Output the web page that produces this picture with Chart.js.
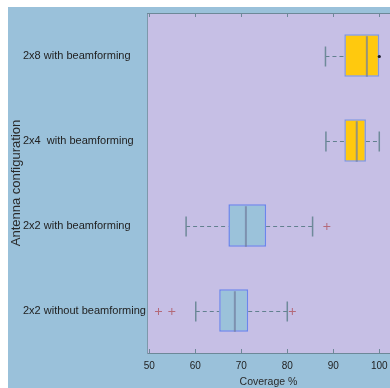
<!DOCTYPE html>
<html>
<head>
<meta charset="utf-8">
<script src="https://cdn.jsdelivr.net/npm/chart.js@4"></script>
<style>
  html, body { margin: 0; padding: 0; background: #ffffff; }
  #wrap { position: absolute; left: 8px; top: 7px; width: 382px; height: 381px; background: #9ac1da; }
</style>
</head>
<body>
<div id="wrap"><canvas id="boxChart" width="382" height="381"></canvas></div>
<script>
// DATA
const categories = ["2x8 with beamforming", "2x4  with beamforming", "2x2 with beamforming", "2x2 without beamforming"];
const whiskerLo = [88.3, 88.4, 58.0, 60.1];
const q1 = [92.4, 92.4, 67.2, 65.2];
const median = [97.3, 95.1, 71.0, 68.6];
const q3 = [100.0, 97.1, 75.4, 71.5];
const whiskerHi = [100.0, 100.0, 85.5, 80.0];
const outliers = [[], [], [88.6], [52.0, 54.9, 81.1]];
const xTicks = [50, 60, 70, 80, 90, 100];

const boxFill = ["#ffc90e", "#ffc90e", "#9bc2da", "#9bc2da"];
const boxLine = ["#7f98e2", "#7f98e2", "#6a86ec", "#6a86ec"];

// plot background, frame ticks, whiskers, medians, outliers
const boxParts = {
    id: "boxParts",
    beforeDraw(chart) {
        const a = chart.chartArea, ctx = chart.ctx;
        ctx.save();
        ctx.fillStyle = "#c6bfe5";
        ctx.fillRect(a.left, a.top, a.right - a.left, a.bottom - a.top);
        ctx.restore();
    },
    beforeDatasetsDraw(chart) {
        const a = chart.chartArea, ctx = chart.ctx;
        const x = chart.scales.x, y = chart.scales.y;
        ctx.save();
        ctx.beginPath();
        ctx.rect(a.left, a.top, a.right - a.left, a.bottom - a.top);
        ctx.clip();
        categories.forEach((c, i) => {
            const cy = Math.round(y.getPixelForValue(i)) + 0.5;
            const lo = x.getPixelForValue(whiskerLo[i]);
            const hi = x.getPixelForValue(whiskerHi[i]);
            const b1 = x.getPixelForValue(q1[i]);
            const b3 = x.getPixelForValue(q3[i]);
            ctx.strokeStyle = "#62808f";
            ctx.lineWidth = 1;
            ctx.setLineDash([4, 3]);
            ctx.beginPath();
            ctx.moveTo(lo, cy); ctx.lineTo(b1, cy);
            if (hi > b3) { ctx.moveTo(b3, cy); ctx.lineTo(hi, cy); }
            ctx.stroke();
            ctx.setLineDash([]);
            ctx.lineWidth = 1.5;
            ctx.strokeStyle = "#6f8a9a";
            ctx.beginPath();
            ctx.moveTo(lo, cy - 10); ctx.lineTo(lo, cy + 10);
            if (hi > b3) { ctx.moveTo(hi, cy - 10); ctx.lineTo(hi, cy + 10); }
            ctx.stroke();
        });
        ctx.restore();
    },
    afterDatasetsDraw(chart) {
        const a = chart.chartArea, ctx = chart.ctx;
        const x = chart.scales.x, y = chart.scales.y;
        ctx.save();
        categories.forEach((c, i) => {
            const cy = Math.round(y.getPixelForValue(i)) + 0.5;
            const half = chart.getDatasetMeta(0).data[i].height / 2;
            const m = x.getPixelForValue(median[i]);
            ctx.strokeStyle = "rgba(115,128,160,0.75)";
            ctx.lineWidth = 2;
            ctx.beginPath();
            ctx.moveTo(m, cy - half + 1); ctx.lineTo(m, cy + half - 1);
            ctx.stroke();
            if (whiskerHi[i] <= q3[i]) {
                ctx.fillStyle = "#1a1a2a";
                ctx.beginPath();
                ctx.arc(x.getPixelForValue(whiskerHi[i]), cy, 1.6, 0, Math.PI * 2);
                ctx.fill();
            }
            ctx.strokeStyle = "#b46a7a";
            ctx.lineWidth = 1;
            outliers[i].forEach(v => {
                const px = x.getPixelForValue(v);
                ctx.beginPath();
                ctx.moveTo(px - 3.5, cy); ctx.lineTo(px + 3.5, cy);
                ctx.moveTo(px, cy - 3.5); ctx.lineTo(px, cy + 3.5);
                ctx.stroke();
            });
        });
        // top frame line and inward tick marks
        ctx.strokeStyle = "#6d8898";
        ctx.lineWidth = 1;
        ctx.beginPath();
        ctx.moveTo(a.left, a.top + 0.5); ctx.lineTo(a.right, a.top + 0.5);
        xTicks.forEach(v => {
            const px = Math.round(x.getPixelForValue(v)) + 0.5;
            ctx.moveTo(px, a.top); ctx.lineTo(px, a.top + 4);
            ctx.moveTo(px, a.bottom); ctx.lineTo(px, a.bottom - 4);
        });
        ctx.stroke();
        ctx.restore();
    }
};

new Chart(document.getElementById("boxChart"), {
    type: "bar",
    data: {
        labels: categories,
        datasets: [{
            data: categories.map((c, i) => [q1[i], q3[i]]),
            backgroundColor: boxFill,
            borderColor: boxLine,
            borderWidth: 1.5,
            borderSkipped: false,
            barPercentage: 0.5,
            categoryPercentage: 1
        }]
    },
    options: {
        indexAxis: "y",
        responsive: false,
        animation: false,
        layout: { padding: { top: 6, right: 0, left: 0, bottom: 0 } },
        plugins: { legend: { display: false }, tooltip: { enabled: false } },
        scales: {
            x: {
                min: 49.5,
                max: 102.33,
                afterBuildTicks: s => { s.ticks = xTicks.map(v => ({ value: v })); },
                afterFit: s => { s.height = 35; s.paddingLeft = 0; s.paddingRight = 0; },
                grid: { display: true, drawOnChartArea: false, drawTicks: false },
                border: { display: true, color: "#6d8898", width: 1 },
                ticks: { padding: 7, color: "#222", font: { family: "Liberation Sans, Arial", size: 10 } },
                title: { display: true, text: "Coverage %", color: "#2a2a2a", padding: 0,
                         font: { family: "Liberation Sans, Arial", size: 10.5 } }
            },
            y: {
                weight: 0,
                afterFit: s => { s.width = 124; s.paddingTop = 0; s.paddingBottom = 0; },
                grid: { display: true, drawOnChartArea: false, drawTicks: false },
                border: { display: true, color: "#7e98aa", width: 1 },
                ticks: { crossAlign: "far", color: "#222", font: { family: "Liberation Sans, Arial", size: 11 } }
            },
            yt: {
                type: "category",
                position: "left",
                weight: 1,
                afterFit: s => { s.width = 15; s.paddingTop = 0; s.paddingBottom = 0; },
                grid: { display: false },
                border: { display: false },
                ticks: { display: false },
                title: { display: true, text: "Antenna configuration", color: "#2a2a2a", padding: { top: 1 },
                         font: { family: "Liberation Sans, Arial", size: 13 } }
            }
        }
    },
    plugins: [boxParts]
});
</script>
</body>
</html>
